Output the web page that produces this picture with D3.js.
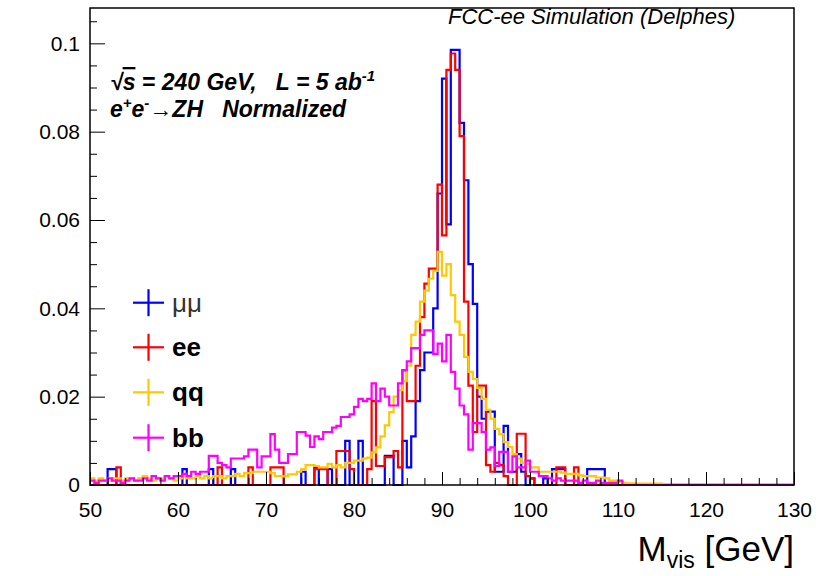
<!DOCTYPE html>
<html><head><meta charset="utf-8">
<script src="https://cdn.jsdelivr.net/npm/d3@7"></script>
<style>body{margin:0;background:#fff}svg{display:block}</style>
</head><body>
<svg id="c" width="819" height="576"></svg>
<script>
// ---------- data ----------
const binLow = 50, binWidth = 0.5;            // 160 bins, 50-130 GeV
const seriesNames = ["μμ", "ee", "qq", "bb"];
const seriesColors = ["#0000ff", "#ff0000", "#ffc800", "#ff00ff"];
const xTickValues = [50, 60, 70, 80, 90, 100, 110, 120, 130];
const yTickValues = [0, 0.02, 0.04, 0.06, 0.08, 0.1];
const yTickLabels = ["0", "0.02", "0.04", "0.06", "0.08", "0.1"];

const mumu = [
 0,0,0,0,0.0036,0.0036,0,0,0,0,
 0,0,0,0,0,0,0,0,0,0,
 0,0.0036,0,0,0,0,0,0.0036,0,0,
 0,0,0.0036,0,0,0,0,0,0,0,
 0,0,0,0,0,0,0,0,0.003,0,
 0,0.004,0,0,0.0036,0,0,0,0.010,0,
 0,0.010,0,0,0,0,0,0.0066,0.0066,0,
 0,0.010,0.004,0.011,0.019,0.026,0.030,0.030,0.040,0.066,
 0.092,0.059,0.0985,0.0985,0.082,0.069,0.050,0.041,0.020,0.015,
 0.0166,0.0166,0.003,0.003,0.0134,0.003,0.003,0.007,0.003,0,
 0.0015,0,0,0.0015,0,0.0036,0.0036,0.0036,0,0,
 0,0,0,0.0036,0.0036,0.0036,0.0036,0,0,0,
 0,0,0,0,0,0,0,0,0,0,
 0,0,0,0,0,0,0,0,0,0,
 0,0,0,0,0,0,0,0,0,0,
 0,0,0,0,0,0,0,0,0,0
];
const ee = [
 0,0,0,0,0,0,0.004,0,0,0,
 0,0,0,0,0,0,0,0,0,0,
 0,0,0,0,0,0,0,0,0,0.004,
 0,0,0,0,0,0,0.004,0,0,0,
 0,0.004,0.004,0.004,0,0,0,0,0,0,
 0,0.0036,0.0036,0.0036,0,0,0.0077,0.0077,0.0077,0.0036,
 0,0,0,0.0036,0.019,0.0043,0.0043,0.0063,0.0063,0.0077,
 0.004,0.026,0.019,0.019,0.027,0.038,0.0456,0.049,0.049,0.068,
 0.0565,0.094,0.0977,0.094,0.079,0.0415,0.0225,0.012,0.0225,0.0225,
 0.0045,0.003,0.005,0.0045,0.002,0,0,0.0116,0.0116,0.002,
 0.0015,0,0,0,0,0,0.004,0.004,0,0,
 0.004,0,0,0,0,0,0,0,0,0,
 0,0,0,0,0,0,0,0,0,0,
 0,0,0,0,0,0,0,0,0,0,
 0,0,0,0,0,0,0,0,0,0,
 0,0,0,0,0,0,0,0,0,0
];
const qq = [
 0.0015,0.001,0.0015,0.001,0.001,0.0015,0.0015,0.001,0.0015,0.0015,
 0.001,0.0015,0.002,0.0015,0.001,0.0015,0.0015,0.002,0.0015,0.001,
 0.0015,0.002,0.0015,0.0015,0.002,0.0015,0.002,0.0015,0.002,0.002,
 0.0015,0.002,0.002,0.0025,0.002,0.0027,0.0027,0.003,0.003,0.003,
 0.003,0.0027,0.002,0.002,0.002,0.0024,0.0024,0.003,0.0036,0.0045,
 0.0045,0.0043,0.004,0.004,0.0048,0.004,0.0045,0.004,0.005,0.005,
 0.0055,0.0055,0.006,0.0062,0.0074,0.0085,0.011,0.0135,0.0165,0.020,
 0.0215,0.0235,0.027,0.034,0.037,0.0415,0.044,0.0467,0.0485,0.0528,
 0.0474,0.050,0.043,0.037,0.034,0.029,0.0256,0.024,0.022,0.0195,
 0.017,0.015,0.0127,0.0115,0.0097,0.0086,0.007,0.006,0.005,0.0048,
 0.004,0.004,0.003,0.003,0.003,0.003,0.003,0.0028,0.0025,0.0025,
 0.0025,0.0022,0.002,0.002,0.002,0.0017,0.0017,0.0015,0.001,0.001,
 0.0007,0.0005,0.0004,0.0004,0.0003,0.0003,0.0003,0.0003,0.0003,0.0003,
 0.0002,0.0002,0.0002,0.0002,0.0002,0.0002,0.0002,0.0002,0.0002,0.0002,
 0.0002,0.0002,0.0002,0.0002,0.0002,0.0002,0.0002,0.0002,0.0002,0.0002,
 0.0002,0.0002,0.0002,0.0002,0.0002,0.0002,0.0002,0.0002,0.0002,0.0002
];
const bb = [
 0.001,0.0005,0.001,0.001,0.0015,0.001,0.001,0.0005,0.001,0.0015,
 0.001,0.001,0.0015,0.001,0.002,0.0015,0.001,0.002,0.0015,0.002,
 0.002,0.0025,0.002,0.003,0.0025,0.003,0.003,0.0066,0.0066,0.005,
 0.0045,0.004,0.006,0.006,0.006,0.0065,0.008,0.008,0.004,0.0065,
 0.0065,0.0115,0.008,0.005,0.005,0.007,0.007,0.012,0.012,0.0112,
 0.0086,0.011,0.0104,0.012,0.012,0.013,0.0134,0.0154,0.0154,0.016,
 0.0177,0.0195,0.019,0.0195,0.023,0.019,0.0218,0.020,0.018,0.018,
 0.023,0.026,0.028,0.031,0.031,0.034,0.035,0.035,0.0297,0.032,
 0.028,0.034,0.0256,0.0218,0.018,0.016,0.008,0.014,0.014,0.012,
 0.008,0.0085,0.0043,0.0075,0.0075,0.003,0.0065,0.004,0.004,0.0055,
 0.003,0.003,0.002,0.002,0.0015,0.001,0.0015,0.001,0.001,0.001,
 0.001,0.0005,0.001,0.0005,0.0005,0.001,0.0005,0.0005,0.0005,0.0005,
 0.001,0,0,0,0,0,0,0,0,0,
 0,0,0,0,0,0,0,0,0,0,
 0,0,0,0,0,0,0,0,0,0,
 0,0,0,0,0,0,0,0,0,0
];
const seriesValues = [mumu, ee, qq, bb];

// ---------- layout ----------
const svg = d3.select("#c");
const FONT = "'Liberation Sans', Arial, Helvetica, sans-serif";
const x = d3.scaleLinear().domain([50, 130]).range([90, 794]);
const y = d3.scaleLinear().domain([0, 0.108]).range([485, 8]);

svg.append("rect").attr("width", 819).attr("height", 576).attr("fill", "#fff");

// histograms
const line = d3.line().x(d => x(d[0])).y(d => y(d[1])).curve(d3.curveStepAfter);
seriesValues.forEach((vals, k) => {
  const pts = vals.map((v, i) => [binLow + i * binWidth, v]);
  pts.push([binLow + vals.length * binWidth, vals[vals.length - 1]]);
  svg.append("path").attr("d", line(pts)).attr("fill", "none")
    .attr("stroke", seriesColors[k]).attr("stroke-width", 2.2)
    .attr("stroke-linejoin", "miter");
});

// axes (ticks inward, ROOT style)
const gx = svg.append("g").attr("transform", `translate(0,${y(0)})`)
  .call(d3.axisBottom(x).tickValues(xTickValues).tickSize(-13).tickPadding(17).tickFormat(d => String(d)));
const gxm = svg.append("g").attr("transform", `translate(0,${y(0)})`)
  .call(d3.axisBottom(x).tickValues(d3.range(50, 131, 2).filter(v => v % 10 !== 0)).tickSize(-7).tickFormat(""));
const gy = svg.append("g").attr("transform", `translate(${x(50)},0)`)
  .call(d3.axisLeft(y).tickValues(yTickValues).tickSize(-15).tickPadding(10).tickFormat((d, i) => yTickLabels[i]));
const gym = svg.append("g").attr("transform", `translate(${x(50)},0)`)
  .call(d3.axisLeft(y).tickValues(d3.range(0, 0.1076, 0.005).filter((v, i) => i % 4 !== 0)).tickSize(-7).tickFormat(""));
[gx, gxm, gy, gym].forEach(g => {
  g.select(".domain").remove();
  g.selectAll("line").attr("stroke", "#000").attr("stroke-width", 1);
  g.selectAll("text").attr("fill", "#000").style("font", `21px ${FONT}`);
});

// frame
svg.append("rect").attr("x", x(50)).attr("y", y(0.108)).attr("width", x(130) - x(50))
  .attr("height", y(0) - y(0.108)).attr("fill", "none").attr("stroke", "#000").attr("stroke-width", 1.5);

// x axis title
const xt = svg.append("text").attr("x", 794).attr("y", 561).attr("text-anchor", "end")
  .style("font", `35px ${FONT}`).attr("fill", "#000");
xt.append("tspan").text("M");
xt.append("tspan").attr("dy", 7).style("font-size", "23px").text("vis");
xt.append("tspan").attr("dy", -7).text(" [GeV]");

// top label
svg.append("text").attr("x", 448).attr("y", 24)
  .style("font", `italic 22px ${FONT}`).attr("fill", "#000").text("FCC-ee Simulation (Delphes)");

// info text
const t1 = svg.append("text").attr("x", 110).attr("y", 90)
  .style("font", `italic bold 23px ${FONT}`).style("white-space", "pre").attr("fill", "#000");
t1.append("tspan").text("√");
t1.append("tspan").attr("text-decoration", "overline").text("s");
t1.append("tspan").text(" = 240 GeV,   L = 5 ab");
t1.append("tspan").attr("dy", -9).style("font-size", "15px").text("-1");
const t2 = svg.append("text").attr("x", 110).attr("y", 117)
  .style("font", `italic bold 23px ${FONT}`).style("white-space", "pre").attr("fill", "#000");
t2.append("tspan").text("e");
t2.append("tspan").attr("dy", -9).style("font-size", "15px").text("+");
t2.append("tspan").attr("dy", 9).text("e");
t2.append("tspan").attr("dy", -9).style("font-size", "15px").text("-");
t2.append("tspan").attr("dy", 9).text("→ZH   Normalized");

// legend
const legY = [302.7, 347.3, 392.3, 437.7];
seriesNames.forEach((name, k) => {
  const g = svg.append("g");
  g.append("line").attr("x1", 133).attr("x2", 164).attr("y1", legY[k]).attr("y2", legY[k])
    .attr("stroke", seriesColors[k]).attr("stroke-width", 2.2);
  g.append("line").attr("x1", 148.5).attr("x2", 148.5).attr("y1", legY[k] - 13.5).attr("y2", legY[k] + 13.5)
    .attr("stroke", seriesColors[k]).attr("stroke-width", 2.2);
  g.append("text").attr("x", 172).attr("y", legY[k] + 9)
    .style("font", `${k === 0 ? "normal" : "bold"} 26px ${FONT}`)
    .attr("fill", k === 0 ? "#333" : "#000").text(name);
});
</script>
</body></html>
